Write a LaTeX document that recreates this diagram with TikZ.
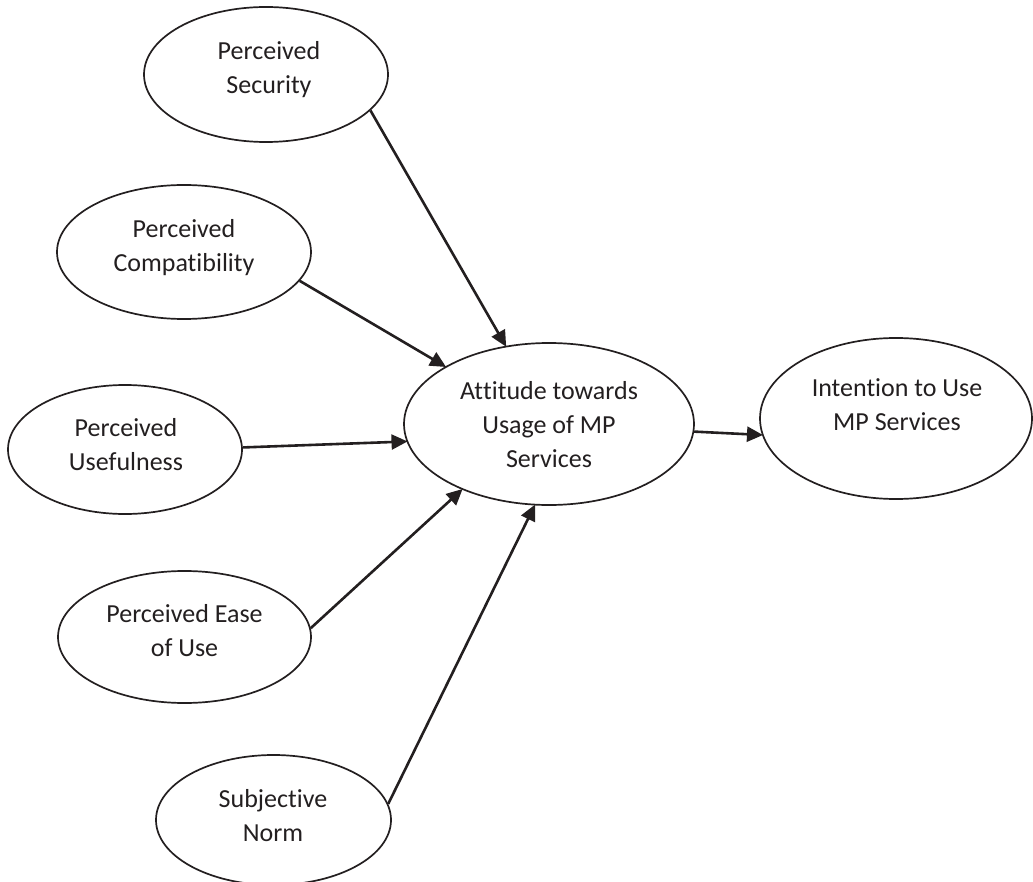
\documentclass[tikz,border=0pt]{standalone}
\usepackage{fontspec}
\setmainfont[RawFeature={-liga;-clig;-calt;-dlig}]{Carlito}
\usetikzlibrary{shapes.geometric,arrows.meta}
\definecolor{ink}{RGB}{35,31,32}
\tikzset{
  oval/.style={draw=ink, line width=1.7pt, ellipse, inner sep=0pt},
  lbl/.style={text=ink, align=center, font=\fontsize{26pt}{34pt}\selectfont, inner sep=0pt},
  link/.style={draw=ink, line width=2.6pt, -{Triangle[length=16pt,width=15pt]}, shorten >=-1pt}
}
\begin{document}
\begin{tikzpicture}[x=1pt,y=-1pt]
\useasboundingbox (0,0) rectangle (1033,882);
% ellipses
\node[oval, minimum width=244pt, minimum height=135pt] (sec) at (266,74.5) {};
\node[oval, minimum width=254pt, minimum height=134pt] (com) at (184,252) {};
\node[oval, minimum width=234pt, minimum height=129pt] (use) at (125,449.5) {};
\node[oval, minimum width=253pt, minimum height=132pt] (eas) at (184.5,637) {};
\node[oval, minimum width=235pt, minimum height=130pt] (sub) at (273.5,820) {};
\node[oval, minimum width=290pt, minimum height=162pt] (att) at (549,424) {};
\node[oval, minimum width=272pt, minimum height=161pt] (int) at (896,418.5) {};
% labels
\node[lbl] (secT) at (269,70) {Perceived\\Security};
\node[lbl] (comT) at (184,247.5) {Perceived\\Compat\kern0pt ibility};
\node[lbl] (useT) at (126,444.5) {Perceived\\Usefulness};
\node[lbl] (easT) at (184.5,631) {Perceived Ease\\of Use};
\node[lbl] (subT) at (273,816) {Subjective\\Norm};
\node[lbl] (attT) at (549,425) {At\kern0pt titude towards\\Usage of MP\\Services};
\node[lbl] (intT) at (897,404.5) {Intention to Use\\MP Services};
% connectors
\draw[link] (sec.-19.5) -- (att.119.3);
\draw[link] (com.-14.3) -- (att.151);
\draw[link] (use.1.7) -- (att.187.4);
\draw[link] (eas.4.9) -- (att.217.5);
\draw[link] (sub.8.5) -- (att.260.2);
\draw[link] (att.-3.5) -- (int.187.1);
\end{tikzpicture}
\end{document}
